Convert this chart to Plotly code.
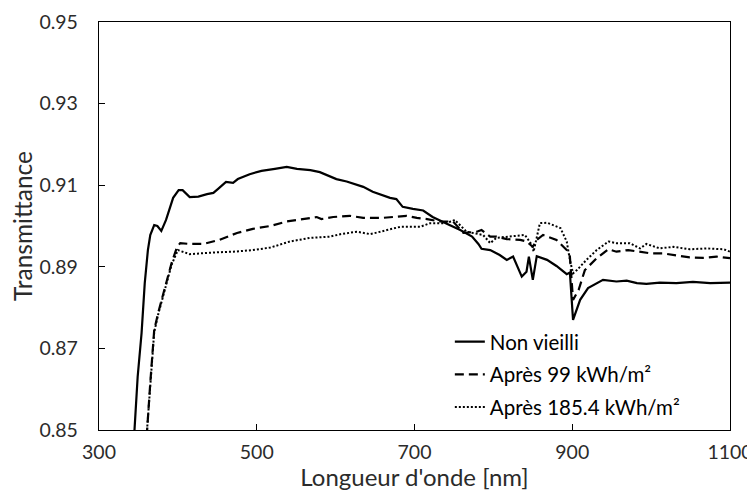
import plotly.graph_objects as go

# Non vieilli
x_non = [343, 345, 349, 354, 358, 362, 365, 370, 374, 379, 385, 394, 401, 406, 415, 426, 437, 445, 451, 461,
         470, 476, 491, 506, 523, 538, 551, 568, 580, 601, 614, 635, 647, 669, 677, 685, 698, 711, 723, 736,
         745, 758, 773, 781, 785, 796, 808, 817, 825, 836, 842, 845, 850, 855, 868, 880, 893, 897, 901, 910,
         920, 939, 956, 969, 982, 994, 1011, 1032, 1053, 1075, 1100]
y_non = [0.845, 0.850, 0.8630, 0.8738, 0.8860, 0.8941, 0.8978, 0.9002, 0.9000, 0.8988, 0.9015, 0.9069, 0.9088,
         0.9088, 0.9071, 0.9072, 0.9078, 0.9081, 0.9091, 0.9108, 0.9106, 0.9115, 0.9127, 0.9135, 0.9140, 0.9145,
         0.9140, 0.9137, 0.9132, 0.9115, 0.9109, 0.9096, 0.9084, 0.9069, 0.9066, 0.9047, 0.9042, 0.9038, 0.9022,
         0.9011, 0.9002, 0.8990, 0.8974, 0.8956, 0.8944, 0.8941, 0.8929, 0.8917, 0.8925, 0.8876, 0.8888, 0.8925,
         0.8868, 0.8926, 0.8917, 0.8902, 0.8882, 0.8886, 0.8770, 0.8819, 0.8848, 0.8868, 0.8864, 0.8866, 0.8860,
         0.8858, 0.8861, 0.8860, 0.8863, 0.8860, 0.8861]

# Après 99 kWh/m²
x_99 = [358, 361, 365, 367, 370, 375, 382, 387, 392, 399, 403, 415, 432, 453, 475, 495, 517, 538, 559, 576,
        582, 597, 618, 635, 660, 677, 690, 703, 716, 732, 749, 762, 779, 785, 796, 804, 817, 834, 842, 850,
        855, 863, 880, 893, 897, 901, 908, 916, 931, 946, 956, 971, 984, 999, 1015, 1028, 1049, 1066, 1083, 1100]
y_99 = [0.845, 0.850, 0.8615, 0.8672, 0.8745, 0.8787, 0.8836, 0.8876, 0.8909, 0.8949, 0.8958, 0.8956, 0.8956,
        0.8966, 0.8983, 0.8993, 0.9000, 0.9011, 0.9017, 0.9022, 0.9017, 0.9022, 0.9025, 0.9020, 0.9020, 0.9023,
        0.9025, 0.9020, 0.9017, 0.9011, 0.9011, 0.8983, 0.8986, 0.8990, 0.8974, 0.8974, 0.8968, 0.8966, 0.8962,
        0.8949, 0.8966, 0.8978, 0.8966, 0.8941, 0.8925, 0.8819, 0.8843, 0.8892, 0.8921, 0.8943, 0.8937, 0.8941,
        0.8937, 0.8933, 0.8933, 0.8929, 0.8923, 0.8922, 0.8925, 0.8921]

# Après 185.4 kWh/m²
x_185 = [359, 361, 365, 370, 375, 382, 387, 392, 400, 415, 445, 470, 495, 517, 542, 568, 593, 606, 627, 644,
         665, 682, 707, 720, 736, 747, 751, 766, 787, 796, 804, 821, 840, 849, 851, 859, 868, 885, 893, 897,
         901, 906, 918, 931, 946, 956, 973, 986, 994, 1011, 1028, 1049, 1070, 1092, 1100]
y_185 = [0.845, 0.850, 0.8610, 0.8740, 0.8783, 0.8832, 0.8872, 0.8905, 0.8941, 0.8931, 0.8935, 0.8937, 0.8941,
         0.8947, 0.8962, 0.8971, 0.8974, 0.8980, 0.8986, 0.8980, 0.8990, 0.8998, 0.8998, 0.9007, 0.9007, 0.9011,
         0.9015, 0.8986, 0.8978, 0.8958, 0.8971, 0.8975, 0.8978, 0.8953, 0.8937, 0.9007, 0.9008, 0.8995, 0.8962,
         0.8917, 0.8884, 0.8892, 0.8917, 0.8941, 0.8962, 0.8958, 0.8958, 0.8945, 0.8956, 0.8945, 0.8949, 0.8943,
         0.8945, 0.8943, 0.8937]

x_ticks = [300, 500, 700, 900, 1100]
y_ticks = [0.85, 0.87, 0.89, 0.91, 0.93, 0.95]

FONT = "Lato"
TXT = "#2b2b2b"

fig = go.Figure()
fig.add_trace(go.Scatter(x=x_non, y=y_non, mode="lines", name="Non vieilli", legendgroup="a",
                         line=dict(color="black", width=2.2)))
fig.add_trace(go.Scatter(x=x_99, y=y_99, mode="lines", name="Après 99 kWh/m²", legendgroup="b",
                         line=dict(color="black", width=2.2, dash="9px,5px")))
fig.add_trace(go.Scatter(x=x_185, y=y_185, mode="lines", name="Après 185.4 kWh/m²", legendgroup="c",
                         line=dict(color="black", width=2, dash="2px,2px")))

# page body has an 8px default margin: figure is sized/offset to compensate
fig.update_layout(
    width=747, height=483,
    margin=dict(l=91, r=25, t=14, b=61, autoexpand=False),
    paper_bgcolor="white", plot_bgcolor="white",
    font=dict(family=FONT, color=TXT, size=19.5),
    showlegend=True,
    legend=dict(x=0.556, y=0.265, xanchor="left", yanchor="top",
                font=dict(size=20.5, color="black", family=FONT),
                bgcolor="rgba(0,0,0,0)", tracegroupgap=3, itemwidth=30),
    xaxis=dict(range=[300, 1100], tickvals=x_ticks, ticktext=[str(v) for v in x_ticks],
               automargin=False,
               showgrid=False, zeroline=False, showline=True, linecolor="black", linewidth=1.3,
               mirror=True, ticks="inside", ticklen=6, tickcolor="black", tickwidth=1.3,
               ticklabelstandoff=4,
               title=dict(text="Longueur d'onde [nm]", font=dict(size=24, color=TXT), standoff=5)),
    yaxis=dict(range=[0.85, 0.95], tickvals=y_ticks, ticktext=[f"{v:.2f}" for v in y_ticks],
               automargin=False,
               showgrid=False, zeroline=False, showline=True, linecolor="black", linewidth=1.3,
               mirror=True, ticks="inside", ticklen=6, tickcolor="black", tickwidth=1.3,
               ticklabelstandoff=16,
               title=dict(text="Transmittance", font=dict(size=24.5, color=TXT), standoff=2)),
)

fig.write_html("out.html")
